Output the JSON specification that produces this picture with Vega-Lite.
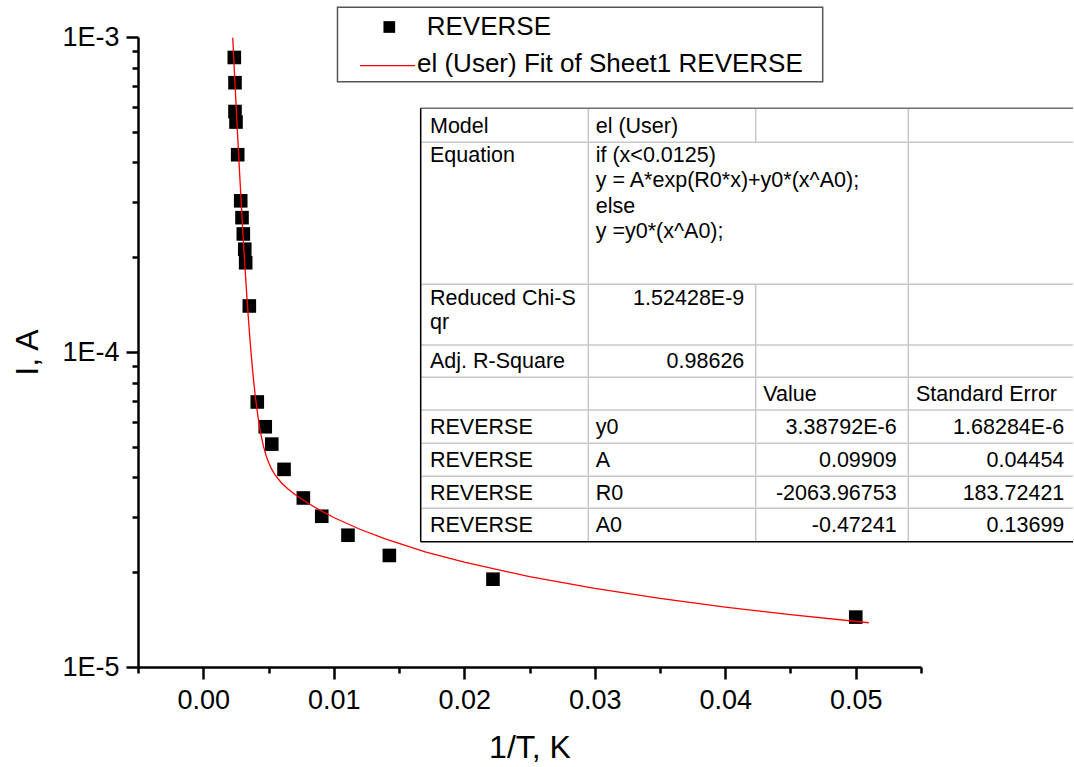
{
  "$schema": "https://vega.github.io/schema/vega-lite/v6.json",
  "width": 783,
  "height": 630,
  "autosize": {"type": "none"},
  "padding": {"left": 138, "top": 37, "right": 153, "bottom": 100},
  "background": "#ffffff",
  "config": {"view": {"stroke": null}, "font": "Liberation Sans"},
  "datasets": {
    "points": [
      {"x": 0.002379, "y": 0.000861},
      {"x": 0.002433, "y": 0.000716},
      {"x": 0.002433, "y": 0.00058},
      {"x": 0.00251, "y": 0.000537},
      {"x": 0.00264, "y": 0.000423},
      {"x": 0.00287, "y": 0.000302},
      {"x": 0.00297, "y": 0.000267},
      {"x": 0.00307, "y": 0.000237},
      {"x": 0.00318, "y": 0.000212},
      {"x": 0.00325, "y": 0.000192},
      {"x": 0.00353, "y": 0.00014},
      {"x": 0.00414, "y": 0.0000694},
      {"x": 0.00475, "y": 0.0000579},
      {"x": 0.00525, "y": 0.000051},
      {"x": 0.00619, "y": 0.0000424},
      {"x": 0.00767, "y": 0.0000344},
      {"x": 0.00908, "y": 0.0000301},
      {"x": 0.01109, "y": 0.0000262},
      {"x": 0.01426, "y": 0.0000226},
      {"x": 0.0222, "y": 0.000019},
      {"x": 0.05, "y": 0.0000144}
    ],
    "fit": [
      {"x": 0.00226, "y": 0.000995},
      {"x": 0.0023, "y": 0.00092},
      {"x": 0.0024, "y": 0.000758},
      {"x": 0.0025, "y": 0.000627},
      {"x": 0.0026, "y": 0.000519},
      {"x": 0.0027, "y": 0.000432},
      {"x": 0.0028, "y": 0.000361},
      {"x": 0.0029, "y": 0.000303},
      {"x": 0.003, "y": 0.000255},
      {"x": 0.0031, "y": 0.0002167},
      {"x": 0.0032, "y": 0.0001852},
      {"x": 0.0033, "y": 0.0001595},
      {"x": 0.0034, "y": 0.0001383},
      {"x": 0.0035, "y": 0.0001212},
      {"x": 0.0036, "y": 0.0001071},
      {"x": 0.0037, "y": 0.0000955},
      {"x": 0.0038, "y": 0.000086},
      {"x": 0.0039, "y": 0.0000782},
      {"x": 0.004, "y": 0.0000717},
      {"x": 0.0042, "y": 0.000062},
      {"x": 0.0044, "y": 0.0000552},
      {"x": 0.0046, "y": 0.0000505},
      {"x": 0.0048, "y": 0.0000471},
      {"x": 0.005, "y": 0.0000447},
      {"x": 0.0052, "y": 0.0000428},
      {"x": 0.0055, "y": 0.0000407},
      {"x": 0.006, "y": 0.0000384},
      {"x": 0.0065, "y": 0.00003672},
      {"x": 0.007, "y": 0.00003535},
      {"x": 0.008, "y": 0.00003316},
      {"x": 0.009, "y": 0.00003136},
      {"x": 0.01, "y": 0.00002983},
      {"x": 0.012, "y": 0.00002737},
      {"x": 0.014, "y": 0.00002545},
      {"x": 0.017, "y": 0.00002322},
      {"x": 0.02, "y": 0.00002151},
      {"x": 0.025, "y": 0.00001936},
      {"x": 0.03, "y": 0.00001776},
      {"x": 0.035, "y": 0.00001651},
      {"x": 0.04, "y": 0.0000155},
      {"x": 0.045, "y": 0.00001466},
      {"x": 0.051, "y": 0.00001382}
    ],
    "tlines": [
      {"kind": "inner", "x": 0.016663, "x2": 0.06665, "y": 0.0004632, "y2": 0.0004632},
      {"kind": "inner", "x": 0.016663, "x2": 0.06665, "y": 0.00016404, "y2": 0.00016404},
      {"kind": "inner", "x": 0.016663, "x2": 0.06665, "y": 0.00010525, "y2": 0.00010525},
      {"kind": "inner", "x": 0.016663, "x2": 0.06665, "y": 0.00008311, "y2": 0.00008311},
      {"kind": "inner", "x": 0.016663, "x2": 0.06665, "y": 0.00006545, "y2": 0.00006545},
      {"kind": "inner", "x": 0.016663, "x2": 0.06665, "y": 0.00005131, "y2": 0.00005131},
      {"kind": "inner", "x": 0.016663, "x2": 0.06665, "y": 0.00004031, "y2": 0.00004031},
      {"kind": "inner", "x": 0.016663, "x2": 0.06665, "y": 0.00003191, "y2": 0.00003191},
      {"kind": "inner", "x": 0.029506, "x2": 0.029506, "y": 0.0005938, "y2": 0.00002499},
      {"kind": "inner", "x": 0.042333, "x2": 0.042333, "y": 0.0005938, "y2": 0.0004632},
      {"kind": "inner", "x": 0.042333, "x2": 0.042333, "y": 0.00016404, "y2": 0.00002499},
      {"kind": "inner", "x": 0.054027, "x2": 0.054027, "y": 0.0005938, "y2": 0.00002499},
      {"kind": "top", "x": 0.016663, "x2": 0.06665, "y": 0.0005938, "y2": 0.0005938},
      {"kind": "outer", "x": 0.016663, "x2": 0.06665, "y": 0.00002499, "y2": 0.00002499},
      {"kind": "outer", "x": 0.016663, "x2": 0.016663, "y": 0.0005938, "y2": 0.00002499}
    ],
    "tcells": [
      {"kind": "l", "x": 0.017375, "y": 0.0004975, "text": "Model"},
      {"kind": "l", "x": 0.017375, "y": 0.000401, "text": "Equation"},
      {"kind": "l", "x": 0.017375, "y": 0.0001415, "text": "Reduced Chi-S"},
      {"kind": "l", "x": 0.017375, "y": 0.0001179, "text": "qr"},
      {"kind": "l", "x": 0.017375, "y": 0.0000887, "text": "Adj. R-Square"},
      {"kind": "l", "x": 0.017375, "y": 0.00005495, "text": "REVERSE"},
      {"kind": "l", "x": 0.017375, "y": 0.00004314, "text": "REVERSE"},
      {"kind": "l", "x": 0.017375, "y": 0.00003402, "text": "REVERSE"},
      {"kind": "l", "x": 0.017375, "y": 0.00002679, "text": "REVERSE"},
      {"kind": "l", "x": 0.030073, "y": 0.0004975, "text": "el (User)"},
      {"kind": "l", "x": 0.030073, "y": 0.000401, "text": "if (x<0.0125)"},
      {"kind": "l", "x": 0.030073, "y": 0.0003329, "text": "y = A*exp(R0*x)+y0*(x^A0);"},
      {"kind": "l", "x": 0.030073, "y": 0.0002763, "text": "else"},
      {"kind": "l", "x": 0.030073, "y": 0.0002293, "text": "y =y0*(x^A0);"},
      {"kind": "l", "x": 0.030073, "y": 0.00005495, "text": "y0"},
      {"kind": "l", "x": 0.030073, "y": 0.00004314, "text": "A"},
      {"kind": "l", "x": 0.030073, "y": 0.00003402, "text": "R0"},
      {"kind": "l", "x": 0.030073, "y": 0.00002679, "text": "A0"},
      {"kind": "l", "x": 0.042916, "y": 0.00006995, "text": "Value"},
      {"kind": "l", "x": 0.054617, "y": 0.00006995, "text": "Standard Error"},
      {"kind": "r", "x": 0.04146, "y": 0.0001415, "text": "1.52428E-9"},
      {"kind": "r", "x": 0.04146, "y": 0.0000887, "text": "0.98626"},
      {"kind": "r", "x": 0.053138, "y": 0.00005495, "text": "3.38792E-6"},
      {"kind": "r", "x": 0.053138, "y": 0.00004314, "text": "0.09909"},
      {"kind": "r", "x": 0.053138, "y": 0.00003402, "text": "-2063.96753"},
      {"kind": "r", "x": 0.053138, "y": 0.00002679, "text": "-0.47241"},
      {"kind": "r", "x": 0.065981, "y": 0.00005495, "text": "1.68284E-6"},
      {"kind": "r", "x": 0.065981, "y": 0.00004314, "text": "0.04454"},
      {"kind": "r", "x": 0.065981, "y": 0.00003402, "text": "183.72421"},
      {"kind": "r", "x": 0.065981, "y": 0.00002679, "text": "0.13699"}
    ],
    "legbox": [{"x": 0.010287, "x2": 0.047467, "y": 0.0012426, "y2": 0.0007213}],
    "legsym": [{"x": 0.014257, "y": 0.0010758}],
    "legline": [{"x": 0.012011, "x2": 0.016226, "y": 0.0008108, "y2": 0.0008108}],
    "legtext": [
      {"x": 0.017123, "y": 0.0010125, "text": "REVERSE"},
      {"x": 0.016379, "y": 0.00077258, "text": "el (User) Fit of Sheet1 REVERSE"}
    ]
  },
  "encoding": {
    "x": {
      "field": "x", "type": "quantitative",
      "scale": {"type": "linear", "domain": [-0.005, 0.055], "nice": false, "zero": false},
      "axis": {
        "title": "1/T, K",
        "values": [-0.005, 0, 0.005, 0.01, 0.015, 0.02, 0.025, 0.03, 0.035, 0.04, 0.045, 0.05, 0.055],
        "labelExpr": "abs(datum.value*100 - round(datum.value*100)) < 1e-6 ? format(datum.value, '.2f') : ''",
        "tickSize": {"condition": {"test": "abs(datum.value*100 - round(datum.value*100)) < 1e-6", "value": 12}, "value": 6},
        "grid": false,
        "domainColor": "#000000", "domainWidth": 2.5,
        "tickColor": "#000000", "tickWidth": 2.5,
        "labelFont": "Liberation Sans", "labelFontSize": 27, "labelColor": "#000000", "labelPadding": 8,
        "labelFlush": false, "labelOverlap": false, "labelBound": false,
        "titleFont": "Liberation Sans", "titleFontSize": 32, "titleFontWeight": "normal", "titleColor": "#000000", "titlePadding": 19
      }
    },
    "y": {
      "field": "y", "type": "quantitative",
      "scale": {"type": "log", "domain": [0.00001, 0.001], "nice": false},
      "axis": {
        "title": "I, A",
        "values": [0.00001, 0.00002, 0.00003, 0.00004, 0.00005, 0.00006, 0.00007, 0.00008, 0.00009, 0.0001, 0.0002, 0.0003, 0.0004, 0.0005, 0.0006, 0.0007, 0.0008, 0.0009, 0.001],
        "labelExpr": "abs(log(datum.value)/LN10 - round(log(datum.value)/LN10)) < 1e-6 ? '1E' + round(log(datum.value)/LN10) : ''",
        "tickSize": {"condition": {"test": "abs(log(datum.value)/LN10 - round(log(datum.value)/LN10)) < 1e-6", "value": 12}, "value": 6},
        "grid": false,
        "domainColor": "#000000", "domainWidth": 2.5,
        "tickColor": "#000000", "tickWidth": 2.5,
        "labelFont": "Liberation Sans", "labelFontSize": 27, "labelColor": "#000000", "labelPadding": 7,
        "labelFlush": false, "labelOverlap": false, "labelBound": false,
        "titleFont": "Liberation Sans", "titleFontSize": 32, "titleFontWeight": "normal", "titleColor": "#000000", "titlePadding": 17
      }
    }
  },
  "layer": [
    {
      "data": {"name": "points"},
      "mark": {"type": "point", "shape": "square", "filled": true, "color": "#000000", "opacity": 1, "size": 185}
    },
    {
      "data": {"name": "fit"},
      "mark": {"type": "line", "color": "#ff0000", "strokeWidth": 1.3}
    },
    {
      "data": {"name": "tlines"},
      "transform": [{"filter": "datum.kind == 'inner'"}],
      "mark": {"type": "rule", "color": "#c8c8c8", "strokeWidth": 1.5},
      "encoding": {"x2": {"field": "x2"}, "y2": {"field": "y2"}}
    },
    {
      "data": {"name": "tlines"},
      "transform": [{"filter": "datum.kind == 'top'"}],
      "mark": {"type": "rule", "color": "#707070", "strokeWidth": 1.5},
      "encoding": {"x2": {"field": "x2"}, "y2": {"field": "y2"}}
    },
    {
      "data": {"name": "tlines"},
      "transform": [{"filter": "datum.kind == 'outer'"}],
      "mark": {"type": "rule", "color": "#000000", "strokeWidth": 1.5},
      "encoding": {"x2": {"field": "x2"}, "y2": {"field": "y2"}}
    },
    {
      "data": {"name": "tcells"},
      "transform": [{"filter": "datum.kind == 'l'"}],
      "mark": {"type": "text", "align": "left", "baseline": "alphabetic", "font": "Liberation Sans", "fontSize": 21.5, "color": "#000000"},
      "encoding": {"text": {"field": "text"}}
    },
    {
      "data": {"name": "tcells"},
      "transform": [{"filter": "datum.kind == 'r'"}],
      "mark": {"type": "text", "align": "right", "baseline": "alphabetic", "font": "Liberation Sans", "fontSize": 21.5, "color": "#000000"},
      "encoding": {"text": {"field": "text"}}
    },
    {
      "data": {"name": "legbox"},
      "mark": {"type": "rect", "fill": null, "fillOpacity": 0, "stroke": "#555555", "strokeWidth": 1.5},
      "encoding": {"x2": {"field": "x2"}, "y2": {"field": "y2"}}
    },
    {
      "data": {"name": "legsym"},
      "mark": {"type": "point", "shape": "square", "filled": true, "color": "#000000", "opacity": 1, "size": 137}
    },
    {
      "data": {"name": "legline"},
      "mark": {"type": "rule", "color": "#ff0000", "strokeWidth": 1.3},
      "encoding": {"x2": {"field": "x2"}, "y2": {"field": "y2"}}
    },
    {
      "data": {"name": "legtext"},
      "mark": {"type": "text", "align": "left", "baseline": "alphabetic", "font": "Liberation Sans", "fontSize": 26, "color": "#000000"},
      "encoding": {"text": {"field": "text"}}
    }
  ]
}
